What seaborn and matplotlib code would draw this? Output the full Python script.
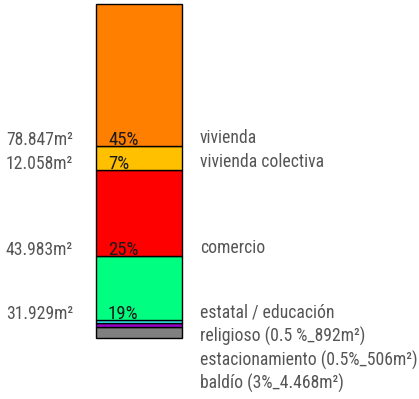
import numpy as np
import pandas as pd
import matplotlib
matplotlib.use('Agg')
import matplotlib.pyplot as plt
import matplotlib.transforms as mtransforms
import seaborn as sns

# %%
# segmentos de abajo hacia arriba (como se apilan)
usos = ['baldío', 'estacionamiento', 'religioso', 'estatal / educación',
        'comercio', 'vivienda colectiva', 'vivienda']
# altura de cada tramo (% de la barra)
alturas = [3.15, 1.05, 0.9, 19.4, 25.7, 7.2, 42.6]
colores = ['#808080', '#9900cc', '#33ffff', '#00ff80', '#ff0000', '#ffc000', '#ff8000']

# etiquetas
superficies = ['', '', '', '31.929m²', '43.983m²', '12.058m²', '78.847m²']
porcentajes = ['', '', '', '19%', '25%', '7%', '45%']
nombres = ['baldío (3%_4.468m²)', 'estacionamiento (0.5%_506m²)', 'religioso (0.5 %_892m²)',
           'estatal / educación', 'comercio', 'vivienda colectiva', 'vivienda']

df = pd.DataFrame({'uso': usos, 'altura': alturas, 'color': colores})
df['base'] = np.concatenate([[0], np.cumsum(alturas)[:-1]])

# %%
sns.set_style('white')
plt.rcParams['font.family'] = ['Roboto Condensed', 'Liberation Sans Narrow', 'Arial Narrow',
                               'Roboto', 'DejaVu Sans']

fig = plt.figure(figsize=(4.19, 3.99), dpi=100)
ax = fig.add_axes([0, 0, 1, 1])

for _, row in df.iterrows():
    ax.bar(0, row['altura'], bottom=row['base'], width=0.8,
           color=row['color'], edgecolor='black', linewidth=1)

# escala: la barra ocupa de y=4px a y=337.5px, x de 95.5 a 181.5px
total = sum(alturas)
ppu = 333.5 / total
ax.set_ylim(-(399 - 337.5) / ppu, 337.5 / ppu)
xpu = 86 / 0.8
ax.set_xlim(-138.5 / xpu, (419 - 138.5) / xpu)
ax.axis('off')

# %%
trans = mtransforms.blended_transform_factory(fig.transFigure, ax.transData)
gris = '#555555'
fs = 12.7

for i in range(len(usos)):
    base = df['base'][i]
    if superficies[i]:
        t = mtransforms.offset_copy(trans, fig=fig, x=0, y=4.5, units='points')
        ax.text(73 / 419, base, superficies[i], transform=t, ha='right', va='center',
                fontsize=fs, color=gris)
        ax.text(108 / 419, base, porcentajes[i], transform=t, ha='left', va='center',
                fontsize=13.5, color='#1a1a1a')
        t2 = mtransforms.offset_copy(trans, fig=fig, x=0, y=5.5, units='points')
        ax.text(200 / 419, base, nombres[i], transform=t2, ha='left', va='center',
                fontsize=fs, color=gris)

# los tres tramos pequeños se rotulan en escalera debajo de "estatal"
base_est = df['base'][3]
for k, i in enumerate([2, 1, 0]):
    t = mtransforms.offset_copy(trans, fig=fig, x=0, y=5.5 - (k + 1) * 17, units='points')
    ax.text(200 / 419, base_est, nombres[i], transform=t, ha='left', va='center',
            fontsize=fs, color=gris)

fig.savefig('out.png', dpi=100)
